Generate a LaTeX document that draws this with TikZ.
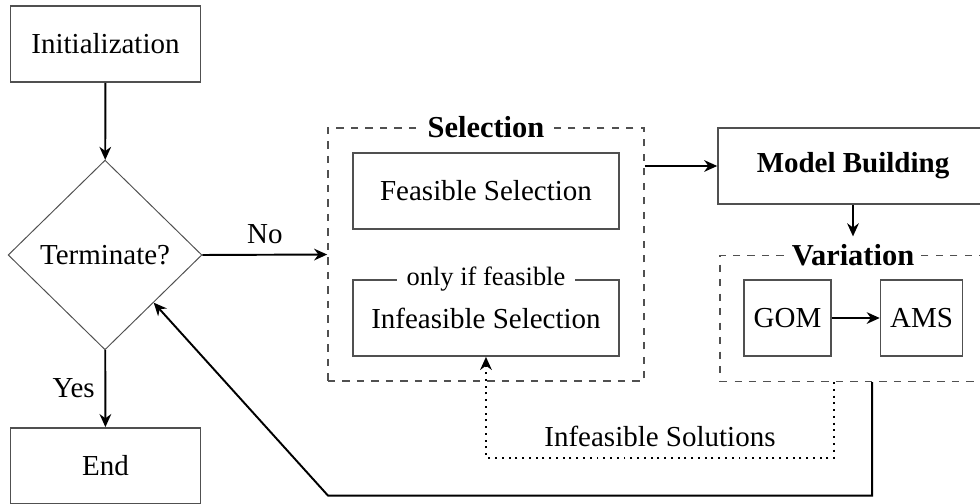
\documentclass[tikz,border=0pt,12pt]{standalone}
\usepackage{fontspec}
\setmainfont{Liberation Serif}
\usetikzlibrary{arrows.meta,positioning,shapes.geometric,calc}
\definecolor{BoxGray}{RGB}{80,80,80}
\tikzset{
  block/.style={draw=BoxGray,semithick,minimum width=2.76cm,
    minimum height=1.11cm,align=center},
  wideblock/.style={block,minimum width=3.87cm},
  decision/.style={diamond,draw=BoxGray,thin,minimum width=2.82cm,
    minimum height=2.76cm,inner sep=0pt,align=center},
  group/.style={draw=BoxGray,dashed,semithick},
  grouptitle/.style={fill=white,font=\bfseries\fontsize{12.6}{14}\selectfont,
    inner sep=3pt},
  flow/.style={-{Stealth[length=1.9mm,width=1.7mm]},thick},
  feedback/.style={-{Stealth[length=1.9mm,width=1.7mm]},thick,dotted}
}

\begin{document}
\begin{tikzpicture}

\useasboundingbox (0,0) rectangle (14.259,-7.319);

\node[block] (init) at (1.535,-0.640) {Initialization};
\node[decision] (term) at (1.528,-3.710) {Terminate?};
\node[block] (end) at (1.535,-6.780) {End};

\node[group,minimum width=4.60cm,minimum height=3.68cm] (sel) at (7.071,-3.703) {};
\node[wideblock] (feas) at (7.071,-2.779) {Feasible Selection};
\node[wideblock] (infeas) at (7.071,-4.627) {Infeasible Selection};
\node[grouptitle] (seltitle) at (sel.north) {Selection};
\node[fill=white,font=\small,inner sep=4pt] (onlyif) at (infeas.north) {only if feasible};

\node[block,minimum width=3.93cm,font=\bfseries] (model) at (12.411,-2.415) {Model Building};

\node[group,minimum width=3.87cm,minimum height=1.83cm] (var) at (12.411,-4.634) {};
\node[block,minimum width=1.22cm] (gom) at (11.458,-4.627) {GOM};
\node[block,minimum width=1.15cm] (ams) at (13.408,-4.627) {AMS};
\node[grouptitle] (vartitle) at (var.north) {Variation};

\draw[flow] (init) -- (term);
\draw[flow] (term) -- node[left] {Yes} (end);
\draw[flow] (term.east) -- node[above] {No} (sel.west);
\draw[flow] (sel.east |- model.west) -- (model.west);
\draw[flow] (model) -- (vartitle);
\draw[flow] (gom) -- (ams);

% back to selection / back to the loop test
\draw[feedback] ($(var.south)+(-0.277,0)$) -- ++(0,-1.10)
  -| node[pos=0.25,above] {Infeasible Solutions} (infeas.south);
\draw[flow] ($(var.south)+(0.277,0)$) -- ++(0,-1.651) -- ++(-7.916,0)
  -- ($(term.east)!0.5!(term.south)$);

\end{tikzpicture}
\end{document}
